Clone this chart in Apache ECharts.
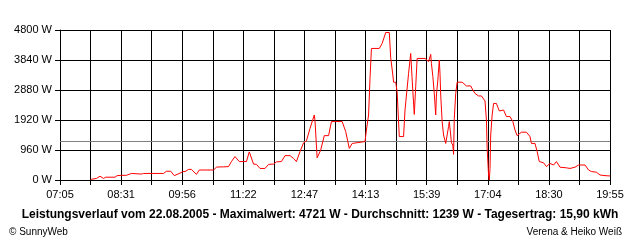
<!DOCTYPE html>
<html>
<head>
<meta charset="utf-8">
<script src="https://cdn.jsdelivr.net/npm/echarts@6/dist/echarts.min.js"></script>
<style>
html,body{margin:0;padding:0;background:#fff;}
#c{width:640px;height:240px;}
</style>
</head>
<body>
<div id="c"></div>
<script>
// ---- data ----
const times = ["07:48","07:56","08:01","08:06","08:09","08:22","08:25","08:31","08:38","08:40","08:45","08:59","09:02","09:30","09:34","09:40","09:45","09:53","09:57","10:00","10:05","10:09","10:16","10:20","10:28","10:30","10:40","10:44","10:49","10:54","10:56","11:01","11:05","11:10","11:16","11:26","11:30","11:36","11:40","11:45","11:52","11:57","12:04","12:08","12:15","12:20","12:27","12:32","12:36","12:41","12:46","12:50","12:55","13:01","13:02","13:05","13:10","13:15","13:21","13:25","13:40","13:45","13:50","13:54","14:12","14:14","14:17","14:19","14:21","14:32","14:36","14:41","14:46","14:48","14:51","14:52","14:55","14:57","15:00","15:06","15:08","15:13","15:16","15:19","15:21","15:23","15:25","15:36","15:41","15:44","15:45","15:47","15:49","15:51","15:52","15:54","15:56","15:57","15:58","16:00","16:02","16:05","16:09","16:10","16:12","16:13","16:15","16:16","16:17","16:19","16:21","16:28","16:34","16:40","16:43","16:46","16:51","16:55","17:00","17:02","17:03","17:05","17:06","17:07","17:08","17:10","17:12","17:16","17:20","17:26","17:30","17:35","17:39","17:42","17:45","17:51","17:58","18:03","18:05","18:10","18:13","18:16","18:22","18:26","18:31","18:36","18:40","18:45","18:54","18:59","19:06","19:11","19:20","19:25","19:29","19:36","19:41","19:48","19:55"];
const power = [20,50,120,50,90,90,140,150,150,180,210,190,210,210,280,280,140,220,270,270,340,340,180,320,320,340,320,410,420,420,450,430,590,750,590,590,900,510,500,370,370,500,510,580,590,780,780,690,590,910,1190,1250,1650,2080,1890,710,960,1420,1420,1870,1870,1550,1010,1170,1230,1600,2080,3250,4210,4210,4370,4721,4721,3910,3360,3130,3130,2810,1390,1390,2240,3410,4050,2830,2100,2990,3890,3890,3790,4020,3730,3310,2770,2080,2720,3200,3840,3410,2720,1870,1440,1170,1710,1870,1440,1190,1120,820,1970,2770,3130,3130,3010,3010,2880,2770,2690,2690,2530,1920,1010,160,0,370,1440,2080,2450,2450,2210,2240,2030,2030,1870,1600,1420,1530,1530,1390,1170,1170,910,590,550,430,530,480,590,410,390,370,410,480,480,320,270,250,160,140,130];
const tickLabels = ["07:05","08:31","09:56","11:22","12:47","14:13","15:39","17:04","18:30","19:55"];
const yTicks = [0,960,1920,2880,3840,4800];
const average = 1239;
const titleText = "Leistungsverlauf vom 22.08.2005 - Maximalwert: 4721 W - Durchschnitt: 1239 W - Tagesertrag: 15,90 kWh";
const leftNote = "© SunnyWeb";
const rightNote = "Verena & Heiko Weiß";

// ---- build ----
function toMin(s){const p=s.split(':');return (+p[0])*60+(+p[1]);}
const xMin = toMin(tickLabels[0]);
const xMax = toMin(tickLabels[tickLabels.length-1]);
const step = (xMax - xMin)/18;
const seriesData = times.map((t,i)=>[toMin(t), power[i]]);

const chart = echarts.init(document.getElementById('c'), null, {renderer:'canvas'});
const font = 'Liberation Sans';
chart.setOption({
  animation:false,
  backgroundColor:'#ffffff',
  title:[
    {text:titleText, left:'center', top:204, textStyle:{fontFamily:font,fontSize:12,fontWeight:'bold',color:'#000'}},
    {text:leftNote, left:4, top:222, textStyle:{fontFamily:font,fontSize:10,fontWeight:'normal',color:'#000'}},
    {text:rightNote, right:13, top:222, textStyle:{fontFamily:font,fontSize:10,fontWeight:'normal',color:'#000'}}
  ],
  grid:{left:60,right:30,top:30,bottom:60,containLabel:false},
  xAxis:{
    type:'value', min:xMin, max:xMax, interval:step,
    axisLine:{show:true,lineStyle:{color:'#000',width:1}},
    axisTick:{show:true,length:5,lineStyle:{color:'#000'}},
    splitLine:{show:true,lineStyle:{color:'#000',width:1}},
    axisLabel:{
      show:true, margin:9, color:'#000', fontFamily:font, fontSize:11,
      showMinLabel:true, showMaxLabel:true,
      formatter:function(v){
        const i=Math.round((v-xMin)/step);
        return (i%2===0)? tickLabels[i/2] : '';
      }
    }
  },
  yAxis:{
    type:'value', min:yTicks[0], max:yTicks[yTicks.length-1], interval:yTicks[1]-yTicks[0],
    axisLine:{show:true,lineStyle:{color:'#000',width:1}},
    axisTick:{show:true,length:5,lineStyle:{color:'#000'}},
    splitLine:{show:true,lineStyle:{color:'#000',width:1}},
    axisLabel:{margin:8,color:'#000',fontFamily:font,fontSize:11,formatter:function(v){return String(Math.round(v))+' W';}}
  },
  series:[{
    type:'line', data:seriesData, showSymbol:false, symbol:'none',
    lineStyle:{color:'#ff0000',width:1}, itemStyle:{color:'#ff0000'},
    z:5,
    markLine:{
      silent:true, symbol:'none', label:{show:false},
      lineStyle:{color:'#808080',width:1,type:'solid'},
      data:[{yAxis:average}], z:3
    }
  }]
});
</script>
</body>
</html>
